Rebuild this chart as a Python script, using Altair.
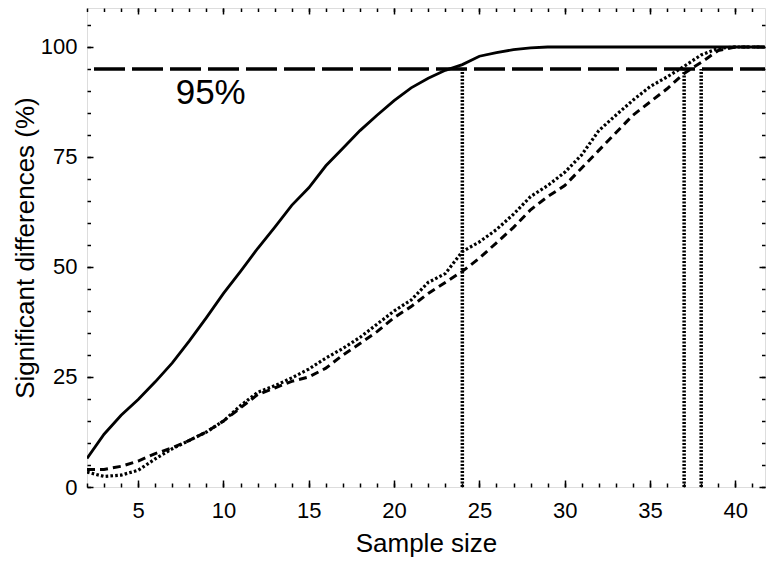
import altair as alt
import pandas as pd

# ---- data ----
sample_size = list(range(2, 43))
solid = [6.5, 12, 16.3, 19.9, 23.9, 28.2, 33.2, 38.5, 44, 49, 54.2, 59, 64, 68, 73, 77, 81, 84.5,
         87.8, 90.7, 92.9, 94.7, 96, 97.9, 98.7, 99.4, 99.8, 100, 100, 100, 100, 100, 100, 100,
         100, 100, 100, 100, 100, 100, 100]
dotted = [3.4, 2.4, 2.7, 3.8, 6.4, 8.7, 10.6, 12.5, 15, 18.5, 21.5, 23, 24.8, 26.8, 29.3, 31.5,
          34, 37, 40, 42.5, 46.5, 48.5, 53.5, 55.7, 58.5, 62, 66, 68.5, 71.5, 75.5, 81, 84.5,
          87.9, 91, 93.2, 95.6, 98.2, 99.7, 100, 100, 100]
dashed = [4.0, 4.0, 4.7, 5.9, 7.6, 8.9, 10.6, 12.5, 15, 18, 21, 22.5, 24, 25, 27, 30, 32.6, 35.3,
          38.5, 41, 44, 46.5, 49, 52, 55.5, 59, 63, 66, 68.5, 72.5, 76.5, 80.5, 84.5, 87.5, 90.5,
          94, 96.5, 99.2, 100, 100, 100]

threshold = [95]
cutoff_sizes = [24, 37, 38]
label_text = ["95%"]
label_x = [9.25]
label_y = [87]

x_major = [5, 10, 15, 20, 25, 30, 35, 40]
x_minor = list(range(2, 42))
y_major = [0, 25, 50, 75, 100]
y_minor = list(range(0, 110, 5))

X_DOMAIN = [2, 41.74]
Y_DOMAIN = [0, 108.86]

df_solid = pd.DataFrame({"n": sample_size, "p": solid})
df_dotted = pd.DataFrame({"n": sample_size, "p": dotted})
df_dashed = pd.DataFrame({"n": sample_size, "p": dashed})
df_thr = pd.DataFrame({"p": threshold, "n0": [X_DOMAIN[0]], "n1": [X_DOMAIN[1]]})
df_cut = pd.DataFrame({"n": cutoff_sizes, "p0": [0] * 3, "p1": threshold * 3})
df_lab = pd.DataFrame({"t": label_text, "n": label_x, "p": label_y})

FONT = "Liberation Sans"
xs = alt.Scale(domain=X_DOMAIN, nice=False, zero=False, clamp=True)
ys = alt.Scale(domain=Y_DOMAIN, nice=False, zero=False)


def tick_axis(orient, values, size):
    return alt.Axis(orient=orient, values=values, tickSize=size, offset=-size, labels=False,
                    domain=False, grid=False, title=None, tickColor="black", tickWidth=1.5)


main_x = alt.Axis(orient="bottom", values=x_major, tickSize=0, domain=False, grid=False,
                  labelFontSize=22, labelPadding=13, labelFont=FONT, labelColor="black",
                  title="Sample size", titleFont=FONT, titleFontSize=26, titleFontWeight="normal",
                  titleColor="black", titlePadding=9)
main_y = alt.Axis(orient="left", values=y_major, tickSize=0, domain=False, grid=False,
                  labelFontSize=22, labelPadding=10, labelFont=FONT, labelColor="black",
                  title="Significant differences (%)", titleFont=FONT, titleFontSize=26,
                  titleFontWeight="normal", titleColor="black", titlePadding=1, titleX=-49)

solid_line = alt.Chart(df_solid).mark_line(color="black", strokeWidth=2.8, clip=True).encode(
    x=alt.X("n:Q", scale=xs, axis=main_x),
    y=alt.Y("p:Q", scale=ys, axis=main_y),
)
dotted_line = alt.Chart(df_dotted).mark_line(color="black", strokeWidth=3.2, strokeDash=[2.6, 2.2],
                                             clip=True).encode(
    x=alt.X("n:Q", scale=xs, axis=tick_axis("bottom", x_major, 7)),
    y=alt.Y("p:Q", scale=ys, axis=tick_axis("left", y_major, 6)),
)
dashed_line = alt.Chart(df_dashed).mark_line(color="black", strokeWidth=3, strokeDash=[8, 5],
                                             clip=True).encode(
    x=alt.X("n:Q", scale=xs, axis=tick_axis("bottom", x_minor, 4)),
    y=alt.Y("p:Q", scale=ys, axis=tick_axis("left", y_minor, 3.5)),
)
thr_rule = alt.Chart(df_thr).mark_rule(color="black", strokeWidth=3.5, strokeDash=[31, 7],
                                       strokeDashOffset=31).encode(
    x=alt.X("n0:Q", scale=xs, axis=tick_axis("top", x_major, 6)),
    x2="n1:Q",
    y=alt.Y("p:Q", scale=ys, axis=tick_axis("right", y_major, 6)),
)
cut_rules = alt.Chart(df_cut).mark_rule(color="black", strokeWidth=3.5, strokeDash=[2, 1.5]).encode(
    x=alt.X("n:Q", scale=xs, axis=tick_axis("top", x_minor, 3.5)),
    y=alt.Y("p0:Q", scale=ys, axis=tick_axis("right", y_minor, 3.5)),
    y2="p1:Q",
)
label = alt.Chart(df_lab).mark_text(font=FONT, fontSize=35, color="black", align="center",
                                    baseline="alphabetic").encode(
    x=alt.X("n:Q", scale=xs, axis=None),
    y=alt.Y("p:Q", scale=ys, axis=None),
    text="t:N",
)

chart = alt.layer(solid_line, dotted_line, dashed_line, thr_rule, cut_rules, label).resolve_axis(
    x="independent", y="independent"
).properties(
    width=678, height=479,
    autosize=alt.AutoSizeParams(type="none"),
    padding={"left": 79, "top": 0, "right": 1, "bottom": 71},
).configure_view(stroke="black", strokeWidth=2).configure(background="white")

chart.save("out.html", embed_options={"renderer": "svg", "actions": False})
